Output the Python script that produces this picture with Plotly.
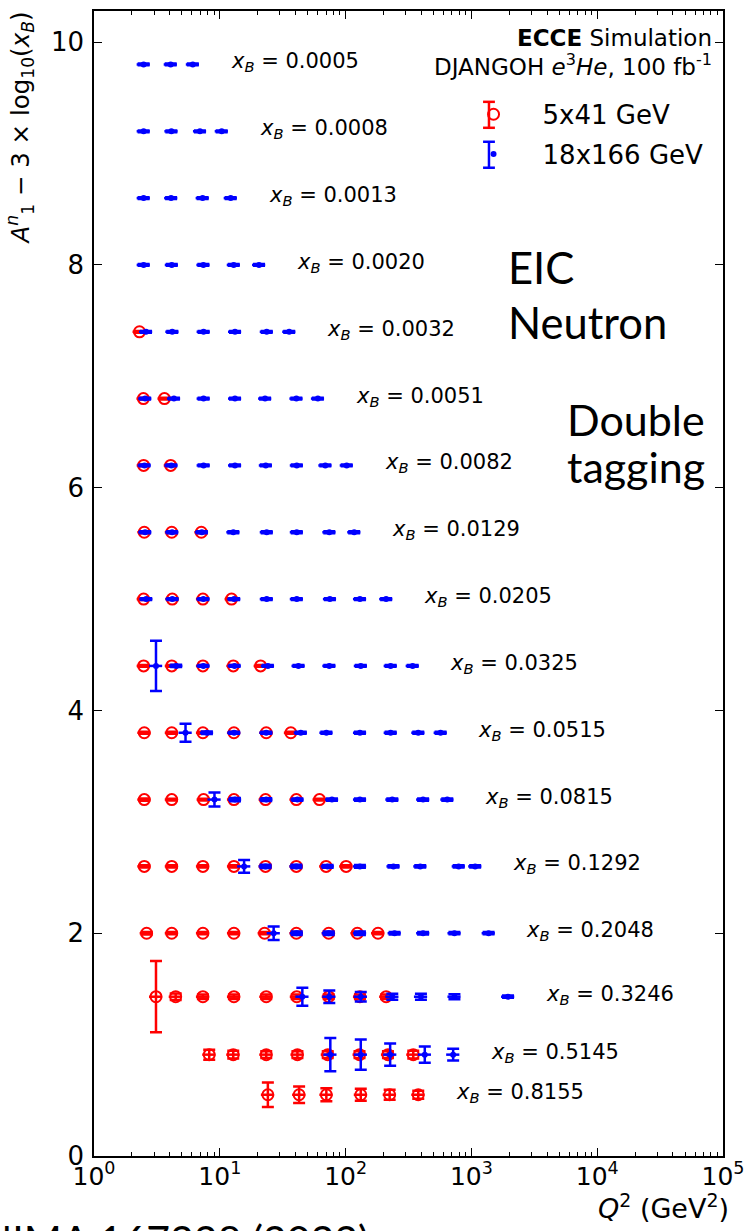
import math
import plotly.graph_objects as go

# ---- data ----
xb_labels = ["0.0005", "0.0008", "0.0013", "0.0020", "0.0032", "0.0051", "0.0082",
             "0.0129", "0.0205", "0.0325", "0.0515", "0.0815", "0.1292", "0.2048",
             "0.3246", "0.5145", "0.8155"]

# plotted value A1n - 3*log10(xB) for each x_B row
row_y = [9.8, 9.2, 8.6, 8.0, 7.4, 6.8, 6.2, 5.6, 5.0, 4.4, 3.8, 3.2, 2.6, 2.0, 1.43, 0.91, 0.55]

# 18x166 GeV (blue) : Q2 values per row and y uncertainties
blue_q2 = [
    [2.48, 4.07, 6.10],
    [2.48, 4.12, 6.95, 10.35],
    [2.48, 4.10, 7.30, 12.2],
    [2.48, 4.15, 7.40, 12.9, 20.5],
    [2.59, 4.19, 7.43, 13.2, 23.6, 35.6],
    [2.55, 4.32, 7.43, 13.2, 22.9, 40.6, 60.2],
    [2.52, 4.12, 7.43, 13.2, 23.2, 40.9, 69.0, 102],
    [2.55, 4.18, 7.2, 12.8, 23.6, 40.9, 74.2, 117],
    [2.6, 4.2, 7.4, 13.0, 23.6, 40.9, 75.0, 130, 210],
    [3.11, 4.5, 7.4, 13.1, 24.1, 42.2, 74.2, 132, 228, 341],
    [5.34, 7.9, 13.0, 23.4, 44.0, 70.3, 130, 228, 378, 569],
    [9.07, 13.2, 23.4, 41.4, 77.9, 130, 235, 413, 643],
    [15.6, 23.1, 40.6, 72.0, 130, 240, 392, 792, 1071],
    [26.8, 40.9, 73.4, 130, 245, 413, 733, 1370],
    [45.3, 74.2, 132, 235, 397, 733, 1955],
    [75.6, 132, 226, 426, 716],
    [],
]
blue_err = [
    [0.008, 0.008, 0.008],
    [0.008, 0.008, 0.008, 0.008],
    [0.008, 0.008, 0.008, 0.008],
    [0.008, 0.008, 0.008, 0.008, 0.008],
    [0.008, 0.008, 0.008, 0.008, 0.008, 0.008],
    [0.008, 0.008, 0.008, 0.008, 0.008, 0.008, 0.008],
    [0.008, 0.008, 0.008, 0.008, 0.008, 0.008, 0.008, 0.008],
    [0.008, 0.008, 0.008, 0.008, 0.008, 0.008, 0.008, 0.008],
    [0.008, 0.008, 0.008, 0.008, 0.008, 0.008, 0.008, 0.008, 0.008],
    [0.225, 0.01, 0.008, 0.008, 0.008, 0.008, 0.008, 0.008, 0.008, 0.008],
    [0.08, 0.012, 0.01, 0.008, 0.008, 0.008, 0.008, 0.008, 0.008, 0.008],
    [0.063, 0.015, 0.012, 0.01, 0.01, 0.01, 0.01, 0.01, 0.01],
    [0.057, 0.015, 0.015, 0.012, 0.012, 0.01, 0.01, 0.01, 0.01],
    [0.06, 0.015, 0.015, 0.015, 0.012, 0.012, 0.01, 0.01],
    [0.081, 0.057, 0.042, 0.027, 0.027, 0.022, 0.01],
    [0.15, 0.135, 0.10, 0.072, 0.052],
    [],
]

# 5x41 GeV (red)
red_q2 = [
    [], [], [], [],
    [2.30],
    [2.47, 3.63],
    [2.48, 4.07],
    [2.51, 4.15, 7.13],
    [2.48, 4.19, 7.34, 12.4],
    [2.48, 4.15, 7.34, 12.8, 21.1],
    [2.51, 4.15, 7.34, 12.95, 23.4, 36.7],
    [2.51, 4.15, 7.43, 12.95, 23.1, 40.6, 62.0],
    [2.51, 4.15, 7.34, 12.95, 23.1, 40.6, 70.0, 101],
    [2.62, 4.15, 7.34, 12.95, 22.7, 40.6, 73.4, 124, 181],
    [3.11, 4.46, 7.34, 12.95, 23.4, 40.9, 73.4, 130, 210],
    [8.24, 12.79, 23.4, 41.4, 72.1, 129, 217, 345],
    [24.1, 42.7, 70.3, 132, 224, 378],
]
red_err = [
    [], [], [], [],
    [0.008],
    [0.008, 0.008],
    [0.008, 0.008],
    [0.008, 0.008, 0.008],
    [0.008, 0.008, 0.008, 0.008],
    [0.008, 0.008, 0.008, 0.008, 0.008],
    [0.008, 0.008, 0.008, 0.008, 0.008, 0.008],
    [0.01, 0.008, 0.008, 0.008, 0.008, 0.008, 0.008],
    [0.01, 0.01, 0.01, 0.01, 0.01, 0.01, 0.01, 0.01],
    [0.012, 0.01, 0.01, 0.01, 0.01, 0.01, 0.01, 0.01, 0.01],
    [0.32, 0.03, 0.02, 0.02, 0.02, 0.02, 0.02, 0.02, 0.02],
    [0.045, 0.035, 0.03, 0.03, 0.03, 0.03, 0.03, 0.035],
    [0.11, 0.075, 0.058, 0.054, 0.045, 0.036],
]

series_names = ["5x41 GeV", "18x166 GeV"]
series_colors = ["#ff0000", "#0000ff"]

x_tick_values = [1, 10, 100, 1000, 10000, 100000]
x_tick_labels = ["10<sup>0</sup>", "10<sup>1</sup>", "10<sup>2</sup>",
                 "10<sup>3</sup>", "10<sup>4</sup>", "10<sup>5</sup>"]
y_tick_values = [0, 2, 4, 6, 8, 10]


def flatten(q2_rows, err_rows):
    xs, ys, es = [], [], []
    for i, (qs, er) in enumerate(zip(q2_rows, err_rows)):
        for q, e in zip(qs, er):
            xs.append(q)
            ys.append(row_y[i])
            es.append(e)
    return xs, ys, es


# ---- layout helpers (pixel geometry of the plot frame) ----
W, H = 753, 1231
L, R, T, B = 94, 22, 9, 75
PW, PH = W - L - R, H - T - B


def px(xp):
    return (xp - L) / PW


def py(yp):
    return (H - B - yp) / PH


FONT = "DejaVu Sans"
BIG = "Lato"
fig = go.Figure()

rx, ry, rerr = flatten(red_q2, red_err)
bx, by, berr = flatten(blue_q2, blue_err)

fig.add_trace(go.Scatter(
    x=rx, y=ry, mode="markers", name=series_names[0], legendgroup="a",
    marker=dict(symbol="circle-open", size=11, color=series_colors[0],
                line=dict(width=2, color=series_colors[0])),
    error_y=dict(type="data", array=rerr, visible=True, color=series_colors[0], thickness=2.5, width=6),
    error_x=dict(type="percent", value=12, visible=True, color=series_colors[0], thickness=2.5, width=0),
))
fig.add_trace(go.Scatter(
    x=bx, y=by, mode="markers", name=series_names[1], legendgroup="b",
    marker=dict(symbol="circle", size=6, color=series_colors[1]),
    error_y=dict(type="data", array=berr, visible=True, color=series_colors[1], thickness=2.5, width=6),
    error_x=dict(type="percent", value=12, visible=True, color=series_colors[1], thickness=2.5, width=0),
))

annotations = []
# x_B labels: placed at twice the largest Q2 of each row
for i, lab in enumerate(xb_labels):
    allq = red_q2[i] + blue_q2[i]
    annotations.append(dict(
        x=math.log10(2 * max(allq)), y=row_y[i], xref="x", yref="y",
        xanchor="left", yanchor="middle", xshift=-2, yshift=2,
        text="<i>x</i><sub><i>B</i></sub> = " + lab, showarrow=False,
        font=dict(family=FONT, size=21, color="black")))

annotations += [
    dict(x=px(722), y=py(36), xref="paper", yref="paper", xanchor="right", yanchor="middle",
         text="<b>ECCE</b> Simulation", showarrow=False,
         font=dict(family=FONT, size=23, color="black")),
    dict(x=px(722), y=py(63), xref="paper", yref="paper", xanchor="right", yanchor="middle",
         text="DJANGOH <i>e</i><sup>3</sup><i>He</i>, 100 fb<sup>-1</sup>", showarrow=False,
         font=dict(family=FONT, size=23, color="black")),
    dict(x=px(511), y=py(265), xref="paper", yref="paper", xanchor="left", yanchor="middle",
         text="EIC", showarrow=False, font=dict(family=BIG, size=43.5, color="black")),
    dict(x=px(511), y=py(321), xref="paper", yref="paper", xanchor="left", yanchor="middle",
         text="Neutron", showarrow=False, font=dict(family=BIG, size=43.5, color="black")),
    dict(x=px(571), y=py(418), xref="paper", yref="paper", xanchor="left", yanchor="middle",
         text="Double", showarrow=False, font=dict(family=BIG, size=43, color="black")),
    dict(x=px(571), y=py(465), xref="paper", yref="paper", xanchor="left", yanchor="middle",
         text="tagging", showarrow=False, font=dict(family=BIG, size=43, color="black")),
    dict(x=1.0, y=py(1207), xref="paper", yref="paper", xanchor="right", yanchor="middle",
         xshift=8,
         text="<i>Q</i><sup>2</sup> (GeV<sup>2</sup>)", showarrow=False,
         font=dict(family=FONT, size=27, color="black")),
    dict(x=px(19), y=py(7), xref="paper", yref="paper", textangle=-90,
         xanchor="center", yanchor="top",
         text="<i>A</i><sup><i>n</i></sup><sub>1</sub> \u2212 3 \u00d7 log<sub>10</sub>(<i>x</i><sub><i>B</i></sub>)",
         showarrow=False, font=dict(family=FONT, size=24.5, color="black")),
    dict(x=px(-22), y=py(1213), xref="paper", yref="paper", xanchor="left", yanchor="top",
         text="NIMA 167228 (2022)", showarrow=False,
         font=dict(family=BIG, size=41, color="black")),
]

# error-bar glyphs inside the legend keys (legend symbols at x=494, y=113/153)
shapes = []
for yc, col in ((113, series_colors[0]), (153, series_colors[1])):
    shapes.append(dict(type="line", xref="paper", yref="paper", x0=px(494), x1=px(494),
                       y0=py(yc - 13), y1=py(yc + 13), line=dict(color=col, width=2.5)))
    for yy in (yc - 13, yc + 13):
        shapes.append(dict(type="line", xref="paper", yref="paper", x0=px(488), x1=px(500),
                           y0=py(yy), y1=py(yy), line=dict(color=col, width=2.5)))

minor_vals = [m * 10 ** d for d in range(5) for m in range(2, 10)]

fig.update_layout(
    width=W, height=H,
    margin=dict(l=L, r=R, t=T, b=B),
    paper_bgcolor="white", plot_bgcolor="white",
    font=dict(family=FONT, size=24, color="black"),
    showlegend=True,
    legend=dict(x=px(449), y=py(89), xanchor="left", yanchor="top",
                bgcolor="rgba(0,0,0,0)", font=dict(family=FONT, size=26, color="black"),
                itemwidth=88, traceorder="grouped", tracegroupgap=3),
    annotations=annotations,
    shapes=shapes,
    xaxis=dict(type="log", range=[0, 5], showline=True, linecolor="black", linewidth=1.5,
               mirror="allticks", ticks="inside", ticklen=8, tickwidth=1.2, tickcolor="black",
               tickvals=x_tick_values, ticktext=x_tick_labels, showgrid=False, zeroline=False,
               tickfont=dict(family=FONT, size=25), ticklabeloverflow="allow",
               ticklabelstandoff=-3,
               minor=dict(tickvals=minor_vals, ticks="inside", ticklen=4, tickwidth=1,
                          tickcolor="black", showgrid=False)),
    yaxis=dict(range=[0, 10.28], showline=True, linecolor="black", linewidth=1.5,
               mirror="allticks", ticks="inside", ticklen=8, tickwidth=1.2, tickcolor="black",
               tickvals=y_tick_values, showgrid=False, zeroline=False,
               ticklabelstandoff=3, tickfont=dict(family=FONT, size=26)),
)

fig.write_html("out.html", config={"displayModeBar": False},
               post_script="document.body.style.margin='0px';document.body.style.overflow='hidden';")
